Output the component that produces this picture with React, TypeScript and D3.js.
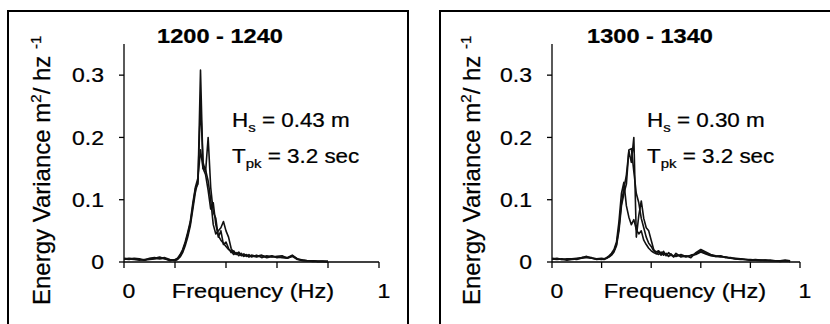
import * as d3 from "d3";

// frequency grid (Hz), coarser away from the peak
const freqHz = [
    0, 0.02, 0.04, 0.06, 0.08, 0.1, 0.12, 0.14, 0.16, 0.18, 0.2,
    0.21, 0.22, 0.23, 0.24, 0.25, 0.26, 0.27, 0.28, 0.29, 0.3,
    0.31, 0.32, 0.33, 0.34, 0.35, 0.36, 0.37, 0.38, 0.39, 0.4,
    0.41, 0.42, 0.43, 0.44, 0.45, 0.46, 0.47, 0.48, 0.49, 0.5,
    0.52, 0.54, 0.56, 0.58, 0.6, 0.62, 0.64, 0.66, 0.68, 0.7,
    0.72, 0.74, 0.76, 0.78, 0.8,
    0.82, 0.84, 0.86, 0.88, 0.9, 0.92, 0.94, 0.96,
];

// 1200 - 1240 spectra (to 0.80 Hz)
const early1 = [
    0.006, 0.005, 0.004, 0.003, 0.004, 0.005, 0.006, 0.008, 0.005, 0.003, 0.003,
    0.005, 0.01, 0.018, 0.03, 0.045, 0.062, 0.09, 0.118, 0.125, 0.308,
    0.15, 0.14, 0.115, 0.085, 0.095, 0.06, 0.042, 0.035, 0.03, 0.025,
    0.02, 0.018, 0.012, 0.015, 0.01, 0.014, 0.009, 0.011, 0.008, 0.01,
    0.008, 0.01, 0.007, 0.009, 0.008, 0.007, 0.006, 0.009, 0.004, 0.003,
    0.002, 0.002, 0.001, 0.001, 0.001,
];
const early2 = [
    0.004, 0.006, 0.005, 0.004, 0.003, 0.004, 0.005, 0.006, 0.007, 0.004, 0.002,
    0.004, 0.008, 0.015, 0.026, 0.04, 0.058, 0.085, 0.112, 0.13, 0.255,
    0.16, 0.145, 0.2, 0.12, 0.08, 0.07, 0.04, 0.05, 0.028, 0.032,
    0.022, 0.015, 0.018, 0.012, 0.014, 0.01, 0.013, 0.009, 0.012, 0.008,
    0.011, 0.007, 0.01, 0.008, 0.009, 0.01, 0.006, 0.01, 0.005, 0.003,
    0.002, 0.002, 0.001, 0.001, 0.001,
];
const early3 = [
    0.005, 0.004, 0.006, 0.005, 0.003, 0.006, 0.007, 0.005, 0.006, 0.002, 0.004,
    0.006, 0.012, 0.02, 0.032, 0.048, 0.065, 0.095, 0.12, 0.135, 0.18,
    0.15, 0.148, 0.13, 0.1, 0.06, 0.045, 0.05, 0.055, 0.065, 0.05,
    0.04, 0.022, 0.015, 0.013, 0.016, 0.011, 0.01, 0.012, 0.009, 0.011,
    0.009, 0.011, 0.008, 0.01, 0.007, 0.008, 0.007, 0.011, 0.005, 0.002,
    0.002, 0.001, 0.001, 0.001, 0,
];

// 1300 - 1340 spectra (to 0.96 Hz)
const late1 = [
    0.006, 0.005, 0.004, 0.004, 0.005, 0.006, 0.007, 0.009, 0.006, 0.005, 0.006,
    0.005, 0.006, 0.009, 0.012, 0.018, 0.028, 0.055, 0.095, 0.118, 0.14,
    0.178, 0.16, 0.2, 0.04, 0.075, 0.098, 0.07, 0.055, 0.05, 0.035,
    0.02, 0.016, 0.018, 0.013, 0.017, 0.01, 0.015, 0.012, 0.009, 0.014,
    0.008, 0.01, 0.007, 0.015, 0.02, 0.016, 0.012, 0.01, 0.009, 0.008,
    0.006, 0.006, 0.005, 0.004, 0.004,
    0.003, 0.003, 0.003, 0.002, 0.002, 0.002, 0.003, 0.002,
];
const late2 = [
    0.005, 0.004, 0.005, 0.003, 0.004, 0.005, 0.006, 0.008, 0.007, 0.004, 0.005,
    0.004, 0.006, 0.008, 0.011, 0.016, 0.026, 0.05, 0.09, 0.11, 0.125,
    0.18, 0.182, 0.145, 0.11, 0.095, 0.07, 0.055, 0.04, 0.03, 0.025,
    0.018, 0.014, 0.012, 0.016, 0.011, 0.014, 0.009, 0.013, 0.008, 0.011,
    0.01, 0.008, 0.011, 0.013, 0.018, 0.014, 0.011, 0.009, 0.01, 0.007,
    0.007, 0.005, 0.005, 0.004, 0.003,
    0.004, 0.003, 0.002, 0.003, 0.002, 0.002, 0.002, 0.001,
];
const late3 = [
    0.004, 0.006, 0.004, 0.005, 0.005, 0.004, 0.007, 0.007, 0.006, 0.005, 0.004,
    0.005, 0.007, 0.01, 0.014, 0.02, 0.032, 0.065, 0.11, 0.128, 0.09,
    0.072, 0.06, 0.068, 0.052, 0.045, 0.05, 0.035, 0.028, 0.022, 0.018,
    0.015, 0.013, 0.016, 0.011, 0.014, 0.012, 0.01, 0.011, 0.01, 0.009,
    0.012, 0.009, 0.01, 0.012, 0.016, 0.013, 0.01, 0.009, 0.008, 0.008,
    0.006, 0.005, 0.004, 0.004, 0.003,
    0.003, 0.002, 0.003, 0.002, 0.002, 0.001, 0.002, 0.001,
];

const titles = ["1200 - 1240", "1300 - 1340"];
const waveHeights = ["0.43", "0.30"];
const peakPeriods = ["3.2", "3.2"];
const yTicks = [0, 0.1, 0.2, 0.3];
const xTicks = [0, 0.2, 0.4, 0.6, 0.8, 1];
const xLabelTicks = [0, 1];

const FONT = "'Liberation Sans', Arial, Helvetica, sans-serif";
const SX = 1.15; // text in the original is a little wide

const layouts = [
    { box: 8, boxW: 400, x0: 124, x1: 379, titleX: 220, annX: 232, yLab: 50, tickR: 104, freqX: 253 },
    { box: 440, boxW: 500, x0: 552, x1: 800, titleX: 650, annX: 647, yLab: 480, tickR: 532, freqX: 685 },
];

const Wide = ({ x, y, anchor = "start", size, weight = "normal", children }) => (
    <text
        transform={`translate(${x},${y}) scale(${SX},1)`}
        textAnchor={anchor}
        fontSize={size}
        fontWeight={weight}
        fontFamily={FONT}
        fill="#000"
        stroke="#000"
        strokeWidth={0.25}
    >
        {children}
    </text>
);

const Panel = ({ lay, title, hs, tpk, series }) => {
    const xScale = d3.scaleLinear().domain([0, 1]).range([lay.x0, lay.x1]);
    const yScale = d3.scaleLinear().domain([0, 0.35]).range([262, 44]);
    const y0 = yScale(0);

    const lineGen = d3
        .line<number>()
        .x((_, i) => xScale(freqHz[i]))
        .y((d) => yScale(d));

    return (
        <g>
            <rect x={lay.box} y={11} width={lay.boxW} height={400} fill="none" stroke="#000" strokeWidth={2} />
            <Wide x={lay.titleX} y={42.5} anchor="middle" size={20.5} weight="bold">
                {title}
            </Wide>

            {/* axes */}
            <line x1={lay.x0} x2={lay.x0} y1={yScale(0.35)} y2={y0} stroke="#000" strokeWidth={1.3} />
            <line x1={lay.x0} x2={lay.x1} y1={y0} y2={y0} stroke="#000" strokeWidth={1.3} />
            {yTicks.map((t) => (
                <g key={t}>
                    <line x1={lay.x0 - 5} x2={lay.x0} y1={yScale(t)} y2={yScale(t)} stroke="#000" strokeWidth={1.3} />
                    <Wide x={lay.tickR} y={yScale(t) + 7.2} anchor="end" size={20}>
                        {t === 0 ? "0" : d3.format(".1f")(t)}
                    </Wide>
                </g>
            ))}
            {xTicks.map((t) => (
                <line key={t} x1={xScale(t)} x2={xScale(t)} y1={y0} y2={y0 + 6} stroke="#000" strokeWidth={1.3} />
            ))}
            {xLabelTicks.map((t) => (
                <Wide key={t} x={xScale(t) + 5} y={298} anchor="middle" size={20}>
                    {String(t)}
                </Wide>
            ))}
            <Wide x={lay.freqX} y={298} anchor="middle" size={20.5}>
                Frequency (Hz)
            </Wide>
            <text
                transform={`translate(${lay.yLab},305) rotate(-90)`}
                fontSize={24}
                fontFamily={FONT}
                fill="#000"
                stroke="#000"
                strokeWidth={0.25}
            >
                Energy Variance m
                <tspan fontSize={15} dy={-9}>2</tspan>
                <tspan dy={9}>/ hz </tspan>
                <tspan fontSize={15} dy={-9}>-1</tspan>
            </text>

            {series.map((s, i) => (
                <path key={i} d={lineGen(s)} fill="none" stroke="#111" strokeWidth={1.6} strokeLinejoin="round" />
            ))}

            <Wide x={lay.annX} y={127} size={19.5}>
                H<tspan fontSize={13} dy={5}>s</tspan>
                <tspan dy={-5}>{` = ${hs} m`}</tspan>
            </Wide>
            <Wide x={lay.annX} y={162.5} size={19.5}>
                T<tspan fontSize={13} dy={5}>pk</tspan>
                <tspan dy={-5}>{` = ${tpk} sec`}</tspan>
            </Wide>
        </g>
    );
};

export default function App() {
    const seriesByPanel = [
        [early3, early2, early1],
        [late3, late2, late1],
    ];
    return (
        <svg
            width={830}
            height={324}
            style={{ position: "absolute", left: 0, top: 0, background: "#fff" }}
        >
            {layouts.map((lay, i) => (
                <Panel
                    key={i}
                    lay={lay}
                    title={titles[i]}
                    hs={waveHeights[i]}
                    tpk={peakPeriods[i]}
                    series={seriesByPanel[i]}
                />
            ))}
        </svg>
    );
}
